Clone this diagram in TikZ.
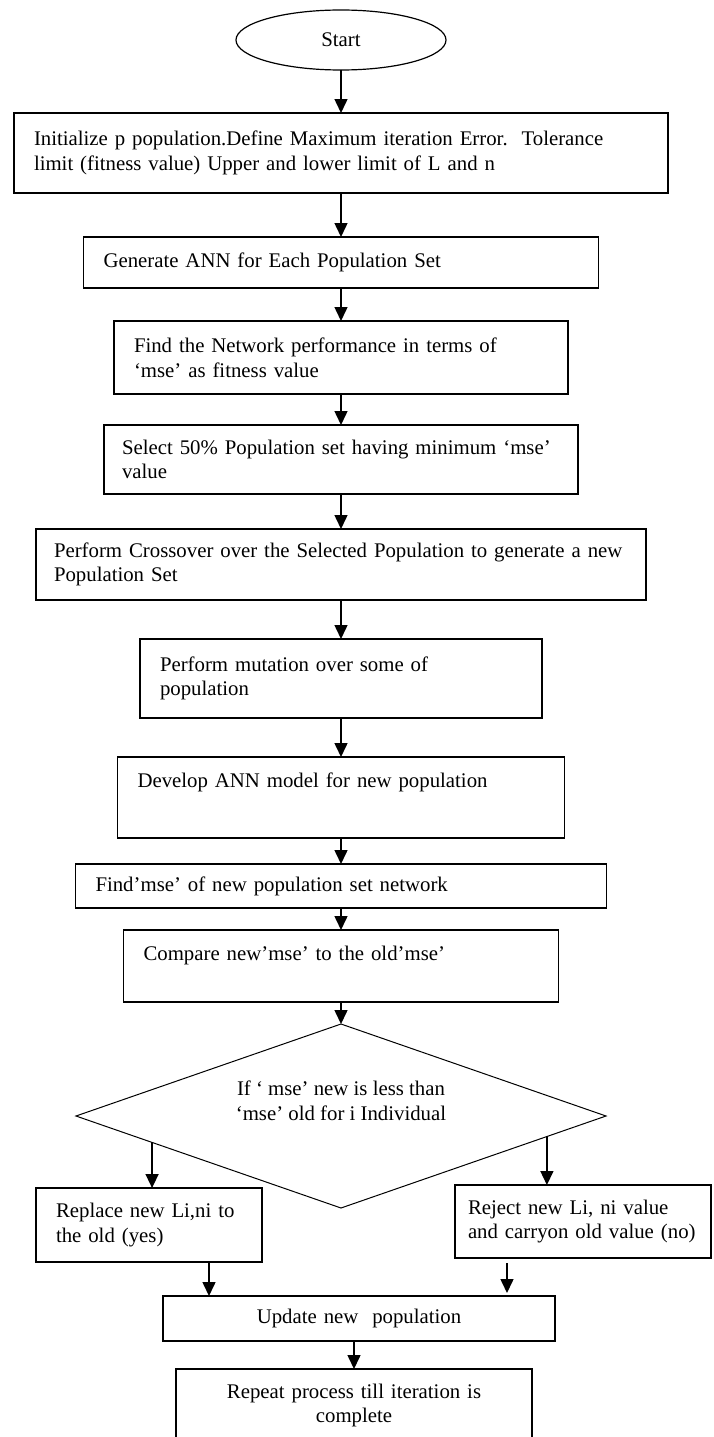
\documentclass[tikz,border=0pt]{standalone}
\usepackage{fontspec}
\setmainfont{Liberation Serif}
\usetikzlibrary{arrows.meta,shapes.geometric,positioning,calc}
\begin{document}
\begin{tikzpicture}[x=1pt, y=1pt, font=\fontsize{20.8}{24.6}\selectfont,
  box/.style={draw=black, line width=1.2pt, align=left, inner xsep=20pt, inner ysep=1pt, outer sep=0pt},
  ctr/.style={box, align=center},
  term/.style={ellipse, draw=black, line width=1.2pt, minimum width=210pt, minimum height=60pt, inner sep=0pt, outer sep=0pt},
  cond/.style={diamond, draw=black, line width=1pt, aspect=2.88, inner sep=0pt, outer sep=0pt, minimum width=530pt, minimum height=184pt, align=center},
  ar/.style={-{Triangle[length=14pt,width=13pt]}, black, line width=1.5pt}]
 \useasboundingbox (0,0) rectangle (713,-1437);
 \clip (0,0) rectangle (713,-1437);
 \node[term] (start) at (341,-40) {Start};
 \node[box, text width=614pt, minimum height=80pt, below=43pt of start] (init) {Initialize p population.Define Maximum iteration Error.\ \ Tolerance\\ limit (fitness value) Upper and lower limit of L and n};
 \node[box, text width=475pt, minimum height=51pt, below=44pt of init] (gen) {Generate ANN for Each Population Set};
 \node[box, text width=414pt, minimum height=73pt, below=33pt of gen] (perf) {Find the Network performance in terms of\\ ‘mse’ as fitness value};
 \node[box, inner xsep=18pt, text width=438pt, minimum height=69pt, below=31pt of perf] (sel) {Select 50\% Population set having minimum ‘mse’\\ value};
 \node[box, inner xsep=18pt, text width=574pt, minimum height=71pt, below=35pt of sel] (cross) {Perform Crossover over the Selected Population to generate a new\\ Population Set};
 \node[box, text width=362pt, minimum height=79pt, below=39pt of cross] (mut) {Perform mutation over some of\\ population};
 \node[box, text width=407pt, minimum height=81pt, below=39pt of mut] (dev) {Develop ANN model for new population\\[10pt] \mbox{}};
 \node[box, text width=491pt, minimum height=44pt, below=26pt of dev] (fmse) {Find’mse’ of new population set network};
 \node[box, text width=395pt, minimum height=72pt, below=22pt of fmse] (cmp) {Compare new’mse’ to the old’mse’\\ \mbox{}};
 \node[cond, below=22pt of cmp] (test) {If ‘ mse’ new is less than\\ ‘mse’ old for i Individual\\[6pt] \mbox{}};
 \node[box, text width=186pt, minimum height=74pt, anchor=north west] (rep) at (36,-1188) {Replace new Li,ni to\\ the old (yes)};
 \node[box, inner xsep=13pt, text width=230pt, minimum height=73pt, anchor=north west] (rej) at (455,-1185) {Reject new Li, ni value\\ and carryon old value (no)};
 \node[ctr, text width=352pt, minimum height=45pt, anchor=north] (upd) at (359,-1296) {Update new\ \ population};
 \node[ctr, text width=316pt, minimum height=73pt, anchor=north] (rpt) at (354,-1369) {Repeat process till iteration is\\ complete};
 \draw[ar] (start) -- (init); \draw[ar] (init) -- (gen); \draw[ar] (gen) -- (perf); \draw[ar] (perf) -- (sel); \draw[ar] (sel) -- (cross);
 \draw[ar] (cross) -- (mut); \draw[ar] (mut) -- (dev); \draw[ar] (dev) -- (fmse); \draw[ar] (fmse) -- (cmp); \draw[ar] (cmp) -- (test);
 \draw[ar] ($(test.west)!0.287!(test.south)$) coordinate (ya) -- (ya |- rep.north);
 \draw[ar] ($(test.east)!0.223!(test.south)$) coordinate (na) -- (na |- rej.north);
 \draw[ar] ([xshift=60pt]rep.south) coordinate (yb) -- (yb |- upd.north);
 \draw[ar] ([xshift=-76pt,yshift=-5pt]rej.south) coordinate (nb) -- ($(nb |- upd.north)+(0,3)$);
 \draw[ar] (upd.south -| rpt.north) -- (rpt.north);
\end{tikzpicture}
\end{document}
